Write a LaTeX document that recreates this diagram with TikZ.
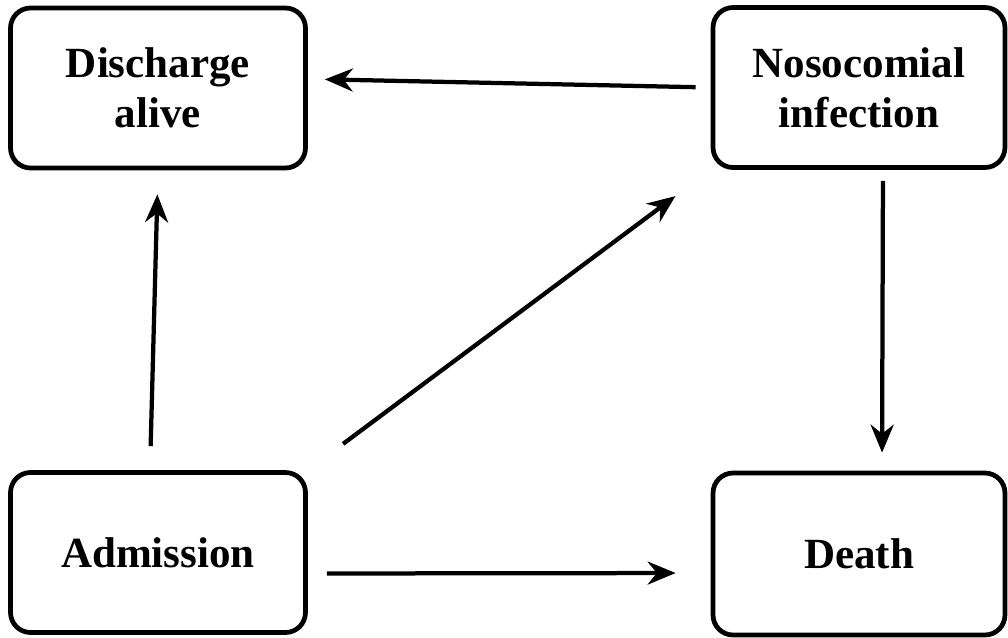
\documentclass[tikz,border=0pt]{standalone}
\usepackage{fontspec}
\setmainfont{Liberation Serif}
\usepackage{tikz}
\usetikzlibrary{arrows.meta}
\tikzstyle{bx}=[rectangle,rounded corners=.4cm,draw=black,line width=.095cm,minimum width=5.9cm,minimum height=3.2cm,align=center,font=\fontsize{24.5}{28.5}\selectfont\bfseries]
\tikzstyle{arr}=[line width=.085cm,-{Stealth[length=.56cm,width=.46cm]}]

\begin{document}
\begin{tikzpicture}[x=.02cm,y=-.02cm]
\useasboundingbox (0,0) rectangle (1008,637);
\node[bx] (dis) at (158,88) {Discharge\\alive};
\node[bx,minimum width=5.84cm] (noso) at (859,87.5) {Nosocomial\\infection};
\node[bx] (adm) at (158,552.5) {Admission};
\node[bx,minimum width=5.84cm,minimum height=3.24cm] (death) at (859,554) {Death};
\draw[arr,shorten <=.3cm,shorten >=.34cm] (noso.west) -- ([yshift=.18cm]dis.east);
\draw[arr,shorten <=.48cm,shorten >=.48cm] ([xshift=-.16cm]adm.north) -- (dis.south);
\draw[arr,shorten <=.88cm,shorten >=.88cm] (adm.north east) -- (noso.south west);
\draw[arr,shorten <=.38cm,shorten >=.7cm] ([yshift=-.42cm]adm.east) -- ([yshift=-.38cm]death.west);
\draw[arr,shorten <=.22cm,shorten >=.36cm] ([xshift=.48cm]noso.south) -- ([xshift=.46cm]death.north);
\end{tikzpicture}
\end{document}
